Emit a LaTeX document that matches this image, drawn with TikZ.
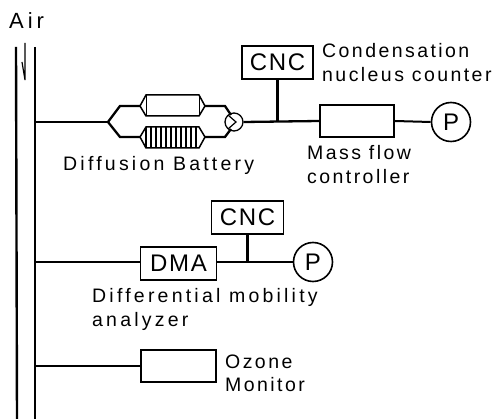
\documentclass[tikz,border=0pt]{standalone}
\usepackage{fontspec}
\setmainfont{Liberation Sans}
\newfontfamily\lblfont[LetterSpace=12.5]{Liberation Sans}
\newfontfamily\widefont[LetterSpace=16.5]{Liberation Sans}
\newfontfamily\airfont[LetterSpace=18]{Liberation Sans}
\newfontfamily\boxfont[LetterSpace=7]{Liberation Sans}
\usetikzlibrary{calc}
\tikzset{
  x=1pt,y=-1pt,
  lbl/.style={anchor=base west,inner sep=0pt,align=left,font=\fontsize{19.5}{24}\selectfont\lblfont},
  wlbl/.style={anchor=base west,inner sep=0pt,align=left,font=\fontsize{19.5}{24}\selectfont\widefont},
  unitbox/.style={draw,line width=1.8pt,minimum width=#1,minimum height=33pt,inner sep=0pt,font=\fontsize{24}{26}\selectfont\boxfont},
  pump/.style={draw,circle,line width=1.6pt,minimum size=39pt,inner sep=0pt,font=\fontsize{24}{26}\selectfont},
  pipe/.style={line width=2.4pt},
  feed/.style={line width=2.3pt},
  thin part/.style={line width=1.5pt}
}
\begin{document}
\begin{tikzpicture}
\useasboundingbox (0,0) rectangle (501,419);
% Main duct
\coordinate (ductLtop) at (16,47);
\coordinate (ductLbot) at (17,419);
\coordinate (ductRtop) at (35,47);
\coordinate (ductRbot) at (35,419);
\draw[pipe] (ductLtop) -- (ductLbot);
\draw[pipe] (ductRtop) -- (ductRbot);
\coordinate (arrT) at (25,43);
\coordinate (arrB) at (25,80);
\coordinate (arrW) at (22,62);
\draw[line width=1.2pt] (arrT) -- (arrB) -- (arrW);
\node[lbl,font=\fontsize{22}{24}\selectfont\airfont] (air) at (9,29) {Air};
% Branch 1
\coordinate (j0) at (35,122);
\coordinate (split) at (108,122);
\coordinate (topA) at (120,106);
\coordinate (topB) at (140,106);
\coordinate (topC) at (205,106);
\coordinate (topD) at (225,106);
\coordinate (botA) at (120,137);
\coordinate (botB) at (140,137);
\coordinate (botC) at (205,137);
\coordinate (botD) at (225,137);
\coordinate (valve) at (234,122);
\draw[feed] (j0) -- (split);
\draw[feed] (split) -- (topA) -- (topB);
\draw[feed] (split) -- (botA) -- (botB);
\draw[feed] (topC) -- (topD) -- (231,115);
\draw[feed] (botC) -- (botD) -- (231,129);
% top tube
\draw[thin part] (topB) -- (146,95) -- (199,95) -- (topC) -- (199,116) -- (146,116) -- cycle;
\draw[line width=1pt] (146,95) -- (146,116) (199,95) -- (199,116);
% bottom tube
\draw[thin part] (botB) -- (146,127) -- (199,127) -- (botC) -- (199,148) -- (146,148) -- cycle;
\foreach \gx in {146,151,...,199} \draw[line width=1.1pt] (\gx,127) -- (\gx,148);
% valve
\node[draw,circle,line width=1.3pt,minimum size=18pt,inner sep=0pt] (v) at (valve) {};
\draw[line width=1.2pt] (228,115) -- (236,122) -- (228,129);
\node[wlbl] (dbl) at (63,171) {Diffusion Battery};
% CNC 1 / MFC / pump
\node[unitbox=71pt] (cnc1) at (277.5,62.5) {CNC};
\node[draw,line width=1.8pt,minimum width=74pt,minimum height=32pt,inner sep=0pt] (mfc) at (357,121) {};
\node[pump] (p1) at (451,122) {P};
\coordinate (j1) at (cnc1.south |- mfc.west);
\draw[feed] (v.east) -- (mfc.west);
\draw[line width=3pt] (cnc1.south) -- (j1);
\draw[line width=2pt] (mfc.east) -- (p1.west);
\node[lbl] (cnl) at (322,58) {Condensation};
\node[lbl] (cnl2) at (322,82) {nucleus counter};
\node[lbl] (mf1) at (307,160) {Mass flow};
\node[lbl] (mf2) at (307,184) {controller};
% DMA branch
\node[unitbox=76pt] (dma) at (178.5,263.5) {DMA};
\node[unitbox=72pt] (cnc2) at (247.5,217.5) {CNC};
\node[pump] (p2) at (313,262) {P};
\coordinate (j2) at (35,262);
\coordinate (j3) at (cnc2.south |- dma.east);
\draw[feed] (j2) -- (dma.west |- j2);
\draw[feed] (dma.east |- j2) -- (p2.west);
\draw[line width=2.2pt] (cnc2.south) -- (j3 |- j2);
\node[wlbl] (dm1) at (92,303) {Differential mobility};
\node[wlbl] (dm2) at (92,327) {analyzer};
% Ozone
\node[draw,line width=1.8pt,minimum width=75pt,minimum height=32pt,inner sep=0pt] (oz) at (178.5,366) {};
\coordinate (j4) at (35,366);
\draw[feed] (j4) -- (oz.west);
\node[lbl] (oz1) at (225,369) {Ozone};
\node[lbl] (oz2) at (225,392) {Monitor};
\end{tikzpicture}
\end{document}
